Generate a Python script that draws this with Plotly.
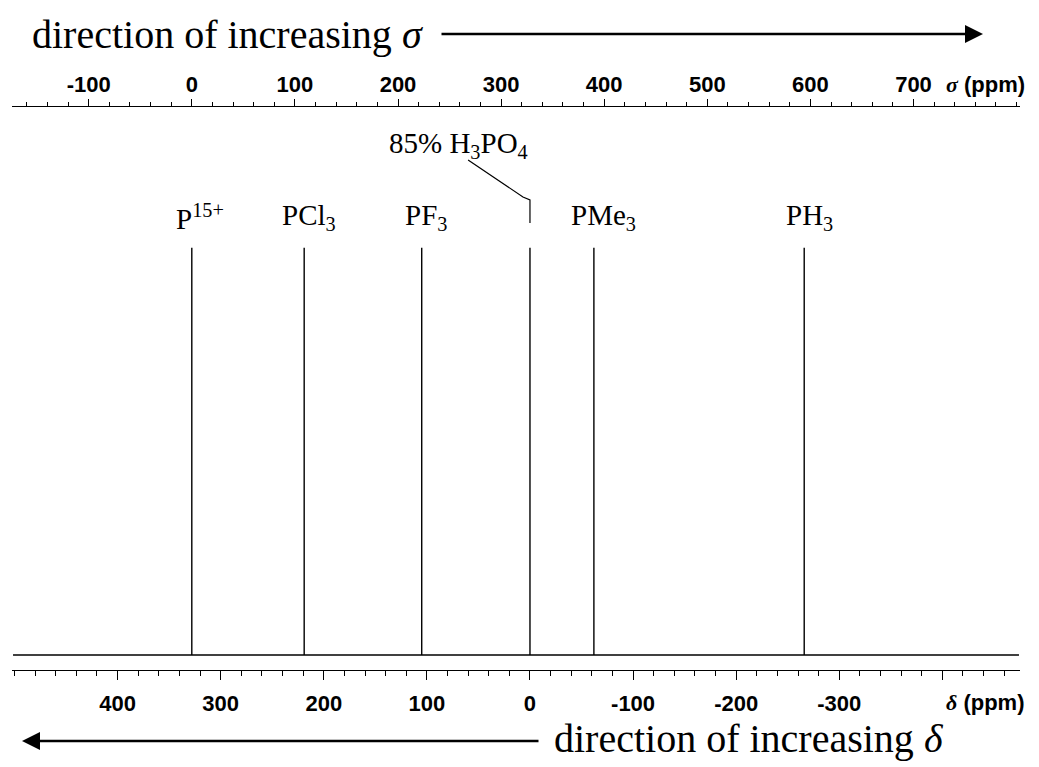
import plotly.graph_objects as go

# 31P reference compounds: chemical shift delta (ppm, vs. 85% H3PO4)
compounds = ["P<sup>15+</sup>", "PCl<sub>3</sub>", "PF<sub>3</sub>",
             "85% H<sub>3</sub>PO<sub>4</sub>", "PMe<sub>3</sub>", "PH<sub>3</sub>"]
delta_ppm = [328, 219, 105, 0, -62, -266]
intensity = [1.0, 1.0, 1.0, 1.0, 1.0, 1.0]

# absolute shielding of the reference: sigma = SIGMA_REF - delta
SIGMA_REF = 328

delta_ticks = [400, 300, 200, 100, 0, -100, -200, -300, -400]
delta_ticktext = ["400", "300", "200", "100", "0", "-100", "-200", "-300", ""]
sigma_ticks = [-100, 0, 100, 200, 300, 400, 500, 600, 700]
sigma_ticktext = ["-100", "0", "100", "200", "300", "400", "500", "600", "700"]

# ---- layout geometry -------------------------------------------------------
W, H = 1039, 767
ML, MR, MT, MB = 12, 19, 107, 97
PW, PH = W - ML - MR, H - MT - MB
delta_range = [502.4, -475.3]
sigma_range = [SIGMA_REF - delta_range[0], SIGMA_REF - delta_range[1]]
y_range = [-0.037, 1.346]


def px(X):
    return (X - ML) / PW


def py(Y):
    return (H - MB - Y) / PH


SERIF = "Liberation Serif"
SANS = "Liberation Sans"

fig = go.Figure()

# baseline of the spectrum
fig.add_trace(go.Scatter(
    x=[delta_range[0] - 1, delta_range[1] + 1], y=[0, 0],
    mode="lines", line=dict(color="black", width=1.6),
    hoverinfo="skip", showlegend=False))

# one stick per resonance
sx, sy = [], []
for d, h in zip(delta_ppm, intensity):
    sx += [d, d, None]
    sy += [0, h, None]
fig.add_trace(go.Scatter(
    x=sx, y=sy, mode="lines", line=dict(color="black", width=1.4),
    hoverinfo="skip", showlegend=False))

# sigma scale carried by the top axis
fig.add_trace(go.Scatter(
    x=[SIGMA_REF - d for d in delta_ppm], y=intensity, xaxis="x2",
    mode="markers", marker=dict(opacity=0), hoverinfo="skip", showlegend=False))

# leader from the H3PO4 label down to its line
fig.add_trace(go.Scatter(
    x=[60, 6.8, 0, 0], y=[1.216, 1.125, 1.118, 1.061],
    mode="lines", line=dict(color="black", width=1.2),
    hoverinfo="skip", showlegend=False))

annotations = []
label_dx = [8, 5, 4, 0, 10, 5]
for name, d, h, dx in zip(compounds, delta_ppm, intensity, label_dx):
    if d == 0:
        annotations.append(dict(
            x=69, y=1.253, xref="x", yref="y", text=name, showarrow=False,
            font=dict(family=SERIF, size=29, color="black"),
            xanchor="center", yanchor="middle"))
    else:
        annotations.append(dict(
            x=d, y=h + 0.075, xref="x", yref="y", text=name, showarrow=False,
            xshift=dx, font=dict(family=SERIF, size=29, color="black"),
            xanchor="center", yanchor="middle"))

# axis unit labels
annotations.append(dict(
    x=px(985), y=py(85), xref="paper", yref="paper", showarrow=False,
    text="<i><span style='font-family:Liberation Serif'>σ</span></i> (ppm)",
    font=dict(family=SANS, size=22, color="black", weight="bold"),
    xanchor="center", yanchor="middle"))
annotations.append(dict(
    x=px(985), y=py(702), xref="paper", yref="paper", showarrow=False,
    text="<i><span style='font-family:Liberation Serif'>δ</span></i> (ppm)",
    font=dict(family=SANS, size=22, color="black", weight="bold"),
    xanchor="center", yanchor="middle"))

# direction captions and arrows
annotations.append(dict(
    x=px(30), y=py(35), xref="paper", yref="paper", showarrow=False,
    text="direction of increasing <i>σ</i>",
    font=dict(family=SERIF, size=40, color="black"), xanchor="left", yanchor="middle"))
annotations.append(dict(
    x=px(983), y=py(34), xref="paper", yref="paper", text="", showarrow=True,
    ax=440 - 983, ay=0, arrowhead=2, arrowsize=1.5, arrowwidth=2.4,
    arrowcolor="black", standoff=0))
annotations.append(dict(
    x=px(552), y=py(738), xref="paper", yref="paper", showarrow=False,
    text="direction of increasing <i>δ</i>",
    font=dict(family=SERIF, size=40, color="black"), xanchor="left", yanchor="middle"))
annotations.append(dict(
    x=px(22), y=py(741), xref="paper", yref="paper", text="", showarrow=True,
    ax=540 - 22, ay=0, arrowhead=2, arrowsize=1.5, arrowwidth=2.4,
    arrowcolor="black", standoff=0))

axis_common = dict(
    showgrid=False, zeroline=False, showline=True, linecolor="black", linewidth=1.4,
    ticks="outside", tickcolor="black", tickwidth=1.2,
    tickfont=dict(family=SANS, size=22, color="black", weight="bold"),
    tickmode="array")

fig.update_layout(
    width=W, height=H,
    margin=dict(l=ML, r=MR, t=MT, b=MB, pad=0),
    paper_bgcolor="white", plot_bgcolor="white",
    showlegend=False,
    xaxis=dict(
        range=delta_range, tickvals=delta_ticks, ticktext=delta_ticktext,
        ticklen=9, ticklabelstandoff=4,
        minor=dict(dtick=20, tick0=0, ticks="outside", ticklen=5,
                   tickcolor="black", tickwidth=1.1),
        **axis_common),
    xaxis2=dict(
        range=sigma_range, overlaying="x", side="top",
        tickvals=sigma_ticks, ticktext=sigma_ticktext,
        ticklen=7, ticklabelstandoff=-2,
        minor=dict(dtick=20, tick0=0, ticks="outside", ticklen=4,
                   tickcolor="black", tickwidth=1.1),
        **axis_common),
    yaxis=dict(range=y_range, visible=False, fixedrange=True),
    annotations=annotations,
)

fig.write_html("out.html")
